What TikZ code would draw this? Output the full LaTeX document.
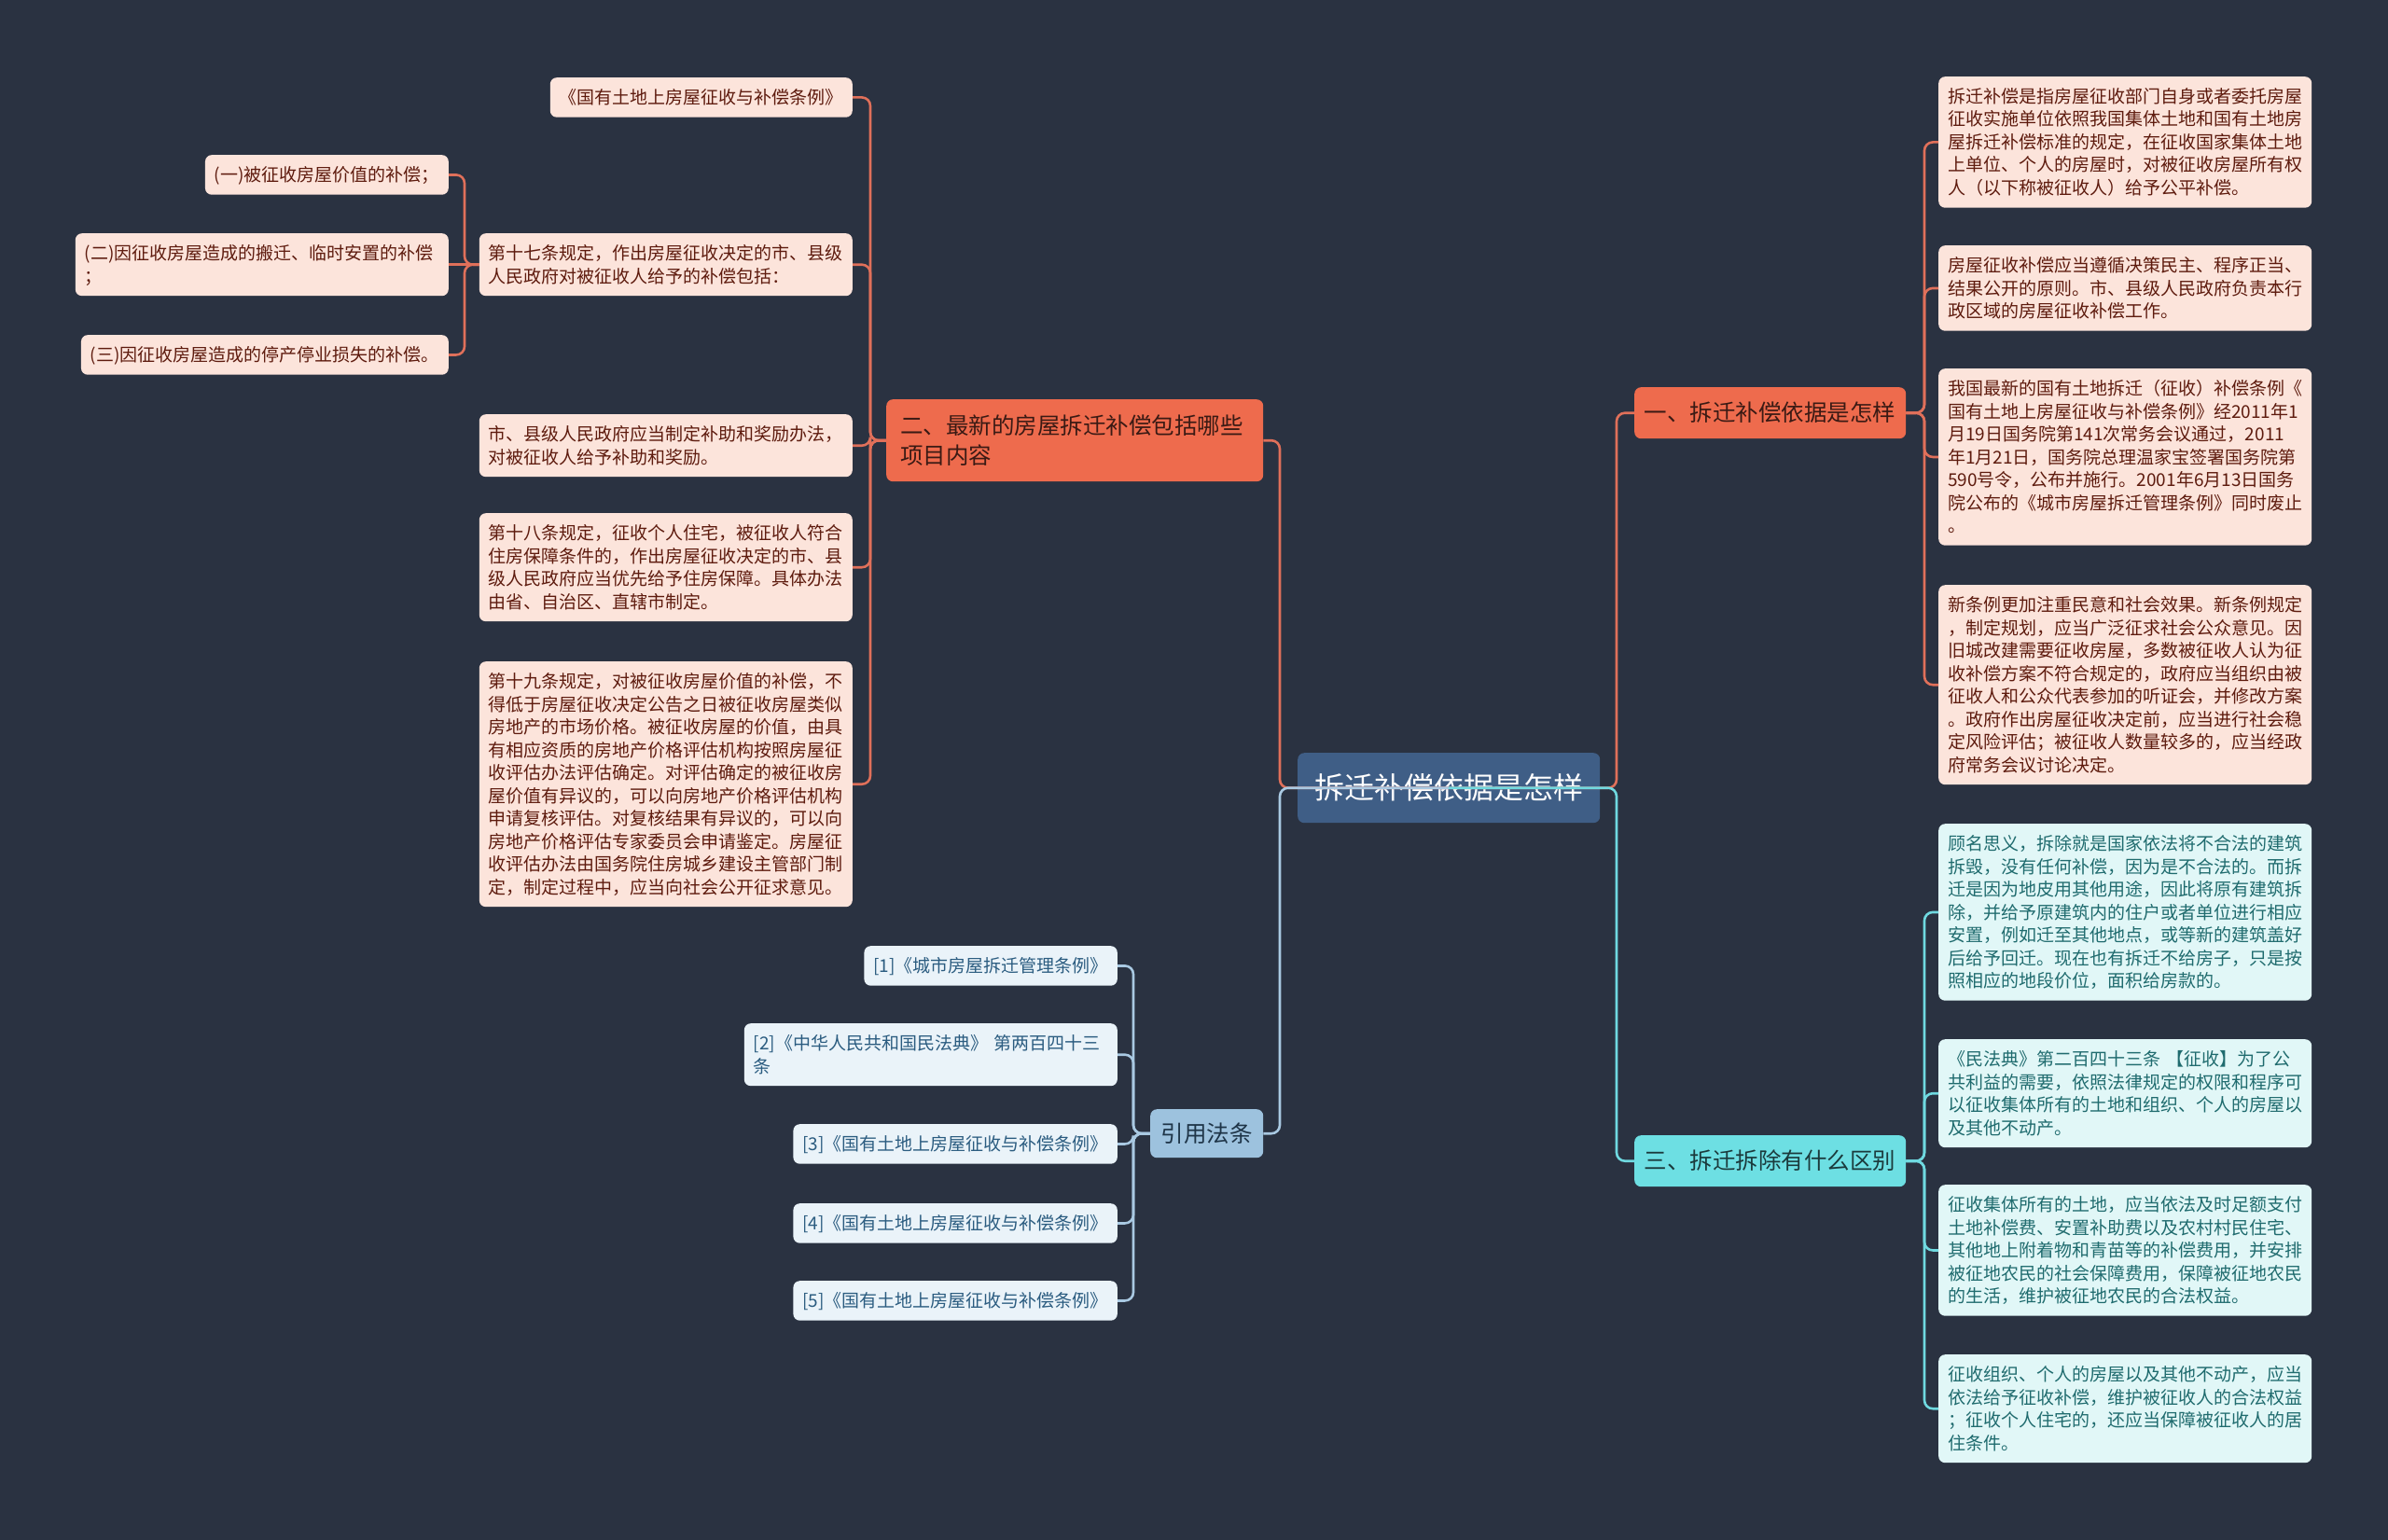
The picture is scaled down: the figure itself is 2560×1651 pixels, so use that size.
\documentclass[tikz,border=0pt]{standalone}
\usepackage{fontspec}
\setmainfont{Noto Sans CJK SC}
\definecolor{bgc}{HTML}{2A3241}
\definecolor{redfill}{HTML}{EE6B4D}
\definecolor{redtext}{HTML}{3A1A14}
\definecolor{rleaffill}{HTML}{FCE4DB}
\definecolor{rleaftext}{HTML}{5E1B0E}
\definecolor{redline}{HTML}{E0705A}
\definecolor{rootfill}{HTML}{3F5E86}
\definecolor{refbfill}{HTML}{9DC2DE}
\definecolor{refbtext}{HTML}{1E3447}
\definecolor{bleaffill}{HTML}{EAF3F9}
\definecolor{bleaftext}{HTML}{2B5C80}
\definecolor{blueline}{HTML}{A9C9E2}
\definecolor{cyanfill}{HTML}{6DDFE3}
\definecolor{cyantext}{HTML}{1B3A3C}
\definecolor{cleaffill}{HTML}{E1F7F7}
\definecolor{cleaftext}{HTML}{1F6B6E}
\definecolor{cyanline}{HTML}{6FD9E0}
\newcommand{\zs}{\rule[-5.2pt]{0pt}{24.5pt}}
\newcommand{\zb}{\rule[-7.1pt]{0pt}{32.5pt}}
\newcommand{\zr}{\rule[-8.4pt]{0pt}{40pt}}
\begin{document}
\begin{tikzpicture}[x=1pt,y=-1pt,
  leaf/.style={rounded corners=7pt, inner xsep=10pt, inner ysep=9pt,
    font=\fontsize{19}{24.5}\selectfont,
    execute at begin node=\zs, execute at end node=\zs},
  wide/.style={leaf, text width=380pt, align=left},
  rl/.style={fill=rleaffill, text=rleaftext},
  cl/.style={fill=cleaffill, text=cleaftext},
  bl/.style={fill=bleaffill, text=bleaftext},
  branch/.style={rounded corners=7pt, inner sep=0pt, align=center,
    font=\fontsize{24.5}{32.5}\selectfont,
    execute at begin node=\zb, execute at end node=\zb},
  rconn/.style={draw=redline, line width=2.6pt, rounded corners=9pt},
  bconn/.style={draw=blueline, line width=2.6pt, rounded corners=9pt},
  cconn/.style={draw=cyanline, line width=2.6pt, rounded corners=9pt}
]
\useasboundingbox (0,0) rectangle (2560,1651);
\fill[bgc] (0,0) rectangle (2560,1651);

% bus coordinates
\coordinate (lb) at (1372,0);
\coordinate (rb) at (2063,0);
\coordinate (b2) at (933,0);
\coordinate (b17) at (498,0);
\coordinate (bref) at (1215,0);
\coordinate (b3) at (2063,0);

% root
\node[rounded corners=7pt, inner sep=0pt, fill=rootfill, text=white,
  minimum width=324pt, minimum height=75pt, anchor=north west,
  font=\fontsize{32}{40}\selectfont] (root) at (1391,807) {\zr 拆迁补偿依据是怎样\zr};

% branches
\node[branch, fill=redfill, text=redtext, minimum width=291pt, minimum height=55pt,
  anchor=north west] (n1) at (1752,415) {一、拆迁补偿依据是怎样};
\node[branch, fill=cyanfill, text=cyantext, minimum width=291pt, minimum height=55pt,
  anchor=north west] (n3) at (1752,1217) {三、拆迁拆除有什么区别};
\node[branch, fill=refbfill, text=refbtext, minimum width=121pt, minimum height=52pt,
  anchor=north west] (nref) at (1233,1189) {引用法条};
\node[branch, fill=redfill, text=redtext, text width=374pt, align=left,
  inner xsep=15pt, inner ysep=11.5pt, anchor=north west] (n2) at (950,428)
  {二、最新的房屋拆迁补偿包括哪些\\项目内容};

% right red leaves
\node[wide, rl, anchor=north west] (r1) at (2078,82)
{拆迁补偿是指房屋征收部门自身或者委托房屋\\征收实施单位依照我国集体土地和国有土地房\\屋拆迁补偿标准的规定，在征收国家集体土地\\上单位、个人的房屋时，对被征收房屋所有权\\人（以下称被征收人）给予公平补偿。};
\node[wide, rl, anchor=north west] (r2) at (2078,263)
{房屋征收补偿应当遵循决策民主、程序正当、\\结果公开的原则。市、县级人民政府负责本行\\政区域的房屋征收补偿工作。};
\node[wide, rl, anchor=north west] (r3) at (2078,395)
{我国最新的国有土地拆迁（征收）补偿条例《\\国有土地上房屋征收与补偿条例》经2011年1\\月19日国务院第141次常务会议通过，2011\\年1月21日，国务院总理温家宝签署国务院第\\590号令，公布并施行。2001年6月13日国务\\院公布的《城市房屋拆迁管理条例》同时废止\\。};
\node[wide, rl, anchor=north west] (r4) at (2078,627)
{新条例更加注重民意和社会效果。新条例规定\\，制定规划，应当广泛征求社会公众意见。因\\旧城改建需要征收房屋，多数被征收人认为征\\收补偿方案不符合规定的，政府应当组织由被\\征收人和公众代表参加的听证会，并修改方案\\。政府作出房屋征收决定前，应当进行社会稳\\定风险评估；被征收人数量较多的，应当经政\\府常务会议讨论决定。};

% right cyan leaves
\node[wide, cl, anchor=north west] (c1) at (2078,883)
{顾名思义，拆除就是国家依法将不合法的建筑\\拆毁，没有任何补偿，因为是不合法的。而拆\\迁是因为地皮用其他用途，因此将原有建筑拆\\除，并给予原建筑内的住户或者单位进行相应\\安置，例如迁至其他地点，或等新的建筑盖好\\后给予回迁。现在也有拆迁不给房子，只是按\\照相应的地段价位，面积给房款的。};
\node[wide, cl, anchor=north west] (c2) at (2078,1114)
{《民法典》第二百四十三条 【征收】为了公\\共利益的需要，依照法律规定的权限和程序可\\以征收集体所有的土地和组织、个人的房屋以\\及其他不动产。};
\node[wide, cl, anchor=north west] (c3) at (2078,1270)
{征收集体所有的土地，应当依法及时足额支付\\土地补偿费、安置补助费以及农村村民住宅、\\其他地上附着物和青苗等的补偿费用，并安排\\被征地农民的社会保障费用，保障被征地农民\\的生活，维护被征地农民的合法权益。};
\node[wide, cl, anchor=north west] (c4) at (2078,1452)
{征收组织、个人的房屋以及其他不动产，应当\\依法给予征收补偿，维护被征收人的合法权益\\；征收个人住宅的，还应当保障被征收人的居\\住条件。};

% left red leaves
\node[leaf, rl, anchor=north east] (l1) at (914,83) {《国有土地上房屋征收与补偿条例》};
\node[wide, rl, anchor=north east] (l2) at (914,250)
{第十七条规定，作出房屋征收决定的市、县级\\人民政府对被征收人给予的补偿包括：};
\node[wide, rl, anchor=north east] (l3) at (914,444)
{市、县级人民政府应当制定补助和奖励办法，\\对被征收人给予补助和奖励。};
\node[wide, rl, anchor=north east] (l4) at (914,550)
{第十八条规定，征收个人住宅，被征收人符合\\住房保障条件的，作出房屋征收决定的市、县\\级人民政府应当优先给予住房保障。具体办法\\由省、自治区、直辖市制定。};
\node[wide, rl, anchor=north east] (l5) at (914,709)
{第十九条规定，对被征收房屋价值的补偿，不\\得低于房屋征收决定公告之日被征收房屋类似\\房地产的市场价格。被征收房屋的价值，由具\\有相应资质的房地产价格评估机构按照房屋征\\收评估办法评估确定。对评估确定的被征收房\\屋价值有异议的，可以向房地产价格评估机构\\申请复核评估。对复核结果有异议的，可以向\\房地产价格评估专家委员会申请鉴定。房屋征\\收评估办法由国务院住房城乡建设主管部门制\\定，制定过程中，应当向社会公开征求意见。};

% sub items of 第十七条
\node[leaf, rl, anchor=north east] (s1) at (481,166) {(一)被征收房屋价值的补偿；};
\node[wide, rl, anchor=north east] (s2) at (481,250) {(二)因征收房屋造成的搬迁、临时安置的补偿\\；};
\node[leaf, rl, anchor=north east] (s3) at (481,359) {(三)因征收房屋造成的停产停业损失的补偿。};

% references
\node[leaf, bl, anchor=north east] (f1) at (1198,1014) {[1]《城市房屋拆迁管理条例》};
\node[wide, bl, anchor=north east] (f2) at (1198,1097) {[2]《中华人民共和国民法典》 第两百四十三\\条};
\node[leaf, bl, anchor=north east] (f3) at (1198,1205) {[3]《国有土地上房屋征收与补偿条例》};
\node[leaf, bl, anchor=north east] (f4) at (1198,1290) {[4]《国有土地上房屋征收与补偿条例》};
\node[leaf, bl, anchor=north east] (f5) at (1198,1373) {[5]《国有土地上房屋征收与补偿条例》};

% root connectors
\draw[rconn] (root.center) -- (root.center -| lb) |- (n2.east);
\draw[rconn] (root.center) -- (root.center -| 1733,0) |- (n1.west);
\draw[bconn] (root.center) -- (root.center -| lb) |- (nref.east);
\draw[cconn] (root.center) -- (root.center -| 1733,0) |- (n3.west);

% branch 一
\foreach \c in {r1,r2,r3,r4}
  \draw[rconn] (n1.east) -- (n1.east -| rb) |- (\c.west);
% branch 三
\foreach \c in {c1,c2,c3,c4}
  \draw[cconn] (n3.east) -- (n3.east -| b3) |- (\c.west);
% branch 二
\foreach \c in {l1,l2,l3,l4,l5}
  \draw[rconn] (n2.west) -- (n2.west -| b2) |- (\c.east);
% 第十七条
\draw[rconn] (l2.west) -- (l2.west -| b17) |- (s1.east);
\draw[rconn] (l2.west) -- (s2.east);
\draw[rconn] (l2.west) -- (l2.west -| b17) |- (s3.east);
% references
\foreach \c in {f1,f2,f3,f4,f5}
  \draw[bconn] (nref.west) -- (nref.west -| bref) |- (\c.east);
\end{tikzpicture}
\end{document}
